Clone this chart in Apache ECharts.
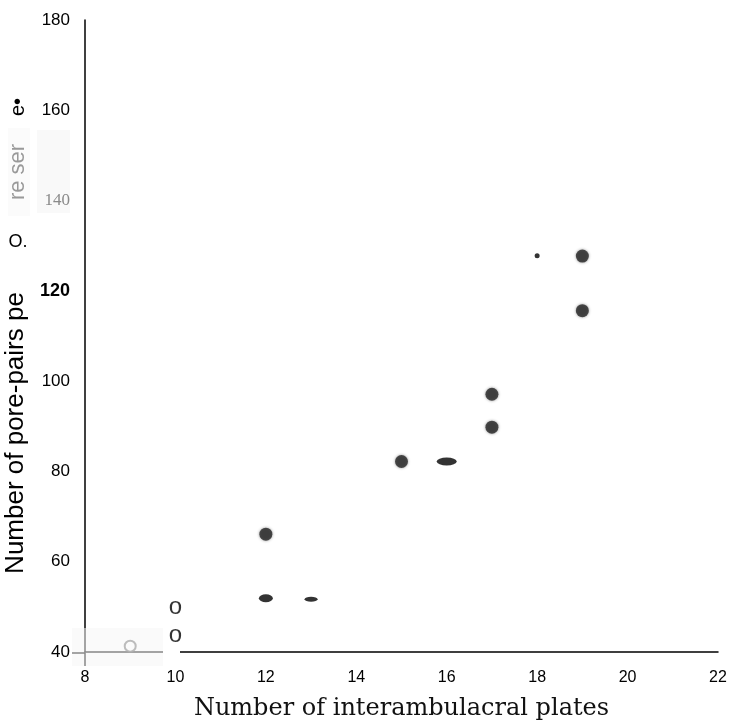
<!DOCTYPE html>
<html>
<head>
<meta charset="utf-8">
<script src="https://cdn.jsdelivr.net/npm/echarts@6/dist/echarts.min.js"></script>
<style>
html,body{margin:0;padding:0;background:#fff;}
#chart{width:732px;height:726px;}
</style>
</head>
<body>
<div id="chart"></div>
<script>
// ---- data ----
const xTicks = [8, 10, 12, 14, 16, 18, 20, 22];
const yTicks = [40, 60, 80, 100, 120, 140, 160, 180];

const filledX = [12, 15, 17, 17, 19, 19];
const filledY = [66.1, 82.2, 97.1, 89.8, 127.7, 115.6];

const ellipseX = [16, 12];
const ellipseY = [82.2, 51.9];

const smallEllipseX = [13];
const smallEllipseY = [51.7];

const dotX = [18];
const dotY = [127.8];

const hollowX = [9];
const hollowY = [41.3];

const letterX = [10, 10];
const letterY = [49.8, 43.6];

const xTitle = 'Number of interambulacral plates';
const yTitleMain = 'Number of pore-pairs pe';

function zip(xs, ys) { return xs.map((x, i) => [x, ys[i]]); }

const chart = echarts.init(document.getElementById('chart'), null, {renderer: 'canvas'});
const sans = '"Liberation Sans", Arial, sans-serif';

chart.setOption({
  backgroundColor: '#fff',
  animation: false,
  grid: {left: 85, right: 14, top: 20, bottom: 73, containLabel: false},
  xAxis: {
    type: 'value', min: xTicks[0], max: xTicks[xTicks.length - 1], interval: 2,
    axisLine: {show: true, lineStyle: {color: '#000', width: 1.5}},
    axisTick: {show: false},
    splitLine: {show: false},
    axisLabel: {fontSize: 16, color: '#000', margin: 18, fontFamily: sans},
    name: xTitle, nameLocation: 'middle', nameGap: 45,
    nameTextStyle: {fontFamily: '"DejaVu Serif", serif', fontSize: 24, color: '#111'}
  },
  yAxis: {
    type: 'value', min: yTicks[0], max: yTicks[yTicks.length - 1], interval: 20,
    axisLine: {show: true, lineStyle: {color: '#000', width: 1.5}},
    axisTick: {show: false},
    splitLine: {show: false},
    axisLabel: {
      margin: 15, fontSize: 17, color: '#000', fontFamily: sans,
      formatter: function (v) {
        if (v === 120) return '{b|' + v + '}';
        if (v === 140) return '{g|' + v + '}';
        return String(v);
      },
      rich: {
        b: {fontWeight: 'bold', fontSize: 18, color: '#000', fontFamily: sans},
        g: {fontSize: 17, color: '#8a8a8a', fontFamily: '"Liberation Serif", serif'}
      }
    }
  },
  series: [
    {
      type: 'scatter', name: 'filled', data: zip(filledX, filledY),
      symbol: 'circle', symbolSize: 13,
      itemStyle: {color: '#252525', shadowBlur: 3, shadowColor: 'rgba(0,0,0,0.5)'}
    },
    {
      type: 'scatter', name: 'ellipse', data: zip(ellipseX, ellipseY),
      symbol: 'circle',
      symbolSize: function (val, p) { return p.dataIndex === 0 ? [20, 8] : [14, 8]; },
      itemStyle: {color: '#000'}
    },
    {
      type: 'scatter', name: 'smallEllipse', data: zip(smallEllipseX, smallEllipseY),
      symbol: 'circle', symbolSize: [13, 5],
      itemStyle: {color: '#000'}
    },
    {
      type: 'scatter', name: 'dot', data: zip(dotX, dotY),
      symbol: 'circle', symbolSize: 5,
      itemStyle: {color: '#000'}
    },
    {
      type: 'scatter', name: 'hollow', data: zip(hollowX, hollowY),
      symbol: 'emptyCircle', symbolSize: 11,
      itemStyle: {color: '#555', borderColor: '#555', borderWidth: 1.5}
    },
    {
      type: 'scatter', name: 'letters', data: zip(letterX, letterY),
      symbol: 'circle', symbolSize: 2,
      itemStyle: {color: 'rgba(255,255,255,0)'},
      label: {show: true, position: 'inside', formatter: 'o', fontSize: 24, color: '#000',
        textBorderWidth: 0, fontFamily: sans}
    }
  ],
  graphic: [
    // faint scanned patch behind 140
    {type: 'rect', z: -5, shape: {x: 37, y: 130, width: 33, height: 83}, style: {fill: '#f9f9f9'}},
    {type: 'rect', z: -5, shape: {x: 8, y: 128, width: 22, height: 88}, style: {fill: '#fbfbfb'}},
    // bottom-left scanned patch
    {type: 'line', z: 90, shape: {x1: 72, y1: 653, x2: 85, y2: 653}, style: {stroke: '#000', lineWidth: 1.5}},
    {type: 'line', z: 90, shape: {x1: 85, y1: 653, x2: 85, y2: 666}, style: {stroke: '#000', lineWidth: 1.5}},
    {type: 'rect', z: 100, shape: {x: 72, y: 628, width: 91, height: 38}, style: {fill: 'rgba(246,246,246,0.55)'}},
    {type: 'rect', z: 100, shape: {x: 163, y: 649, width: 17, height: 8}, style: {fill: '#fff'}},
    // y axis title pieces
    {type: 'text', z: 50, x: 16, y: 433, rotation: Math.PI / 2,
      style: {text: yTitleMain, fontSize: 26, fontFamily: sans, fill: '#000', align: 'center', verticalAlign: 'middle'}},
    {type: 'text', z: 50, x: 18, y: 242,
      style: {text: 'O.', fontSize: 18, fontFamily: sans, fill: '#000', align: 'center', verticalAlign: 'middle'}},
    {type: 'text', z: 50, x: 18, y: 172, rotation: Math.PI / 2,
      style: {text: 're ser', fontSize: 22, fontFamily: sans, fill: '#999', align: 'center', verticalAlign: 'middle'}},
    {type: 'text', z: 50, x: 18, y: 107, rotation: Math.PI / 2,
      style: {text: 'e\u2022', fontSize: 20, fontFamily: sans, fill: '#000', align: 'center', verticalAlign: 'middle'}}
  ]
});
</script>
</body>
</html>
